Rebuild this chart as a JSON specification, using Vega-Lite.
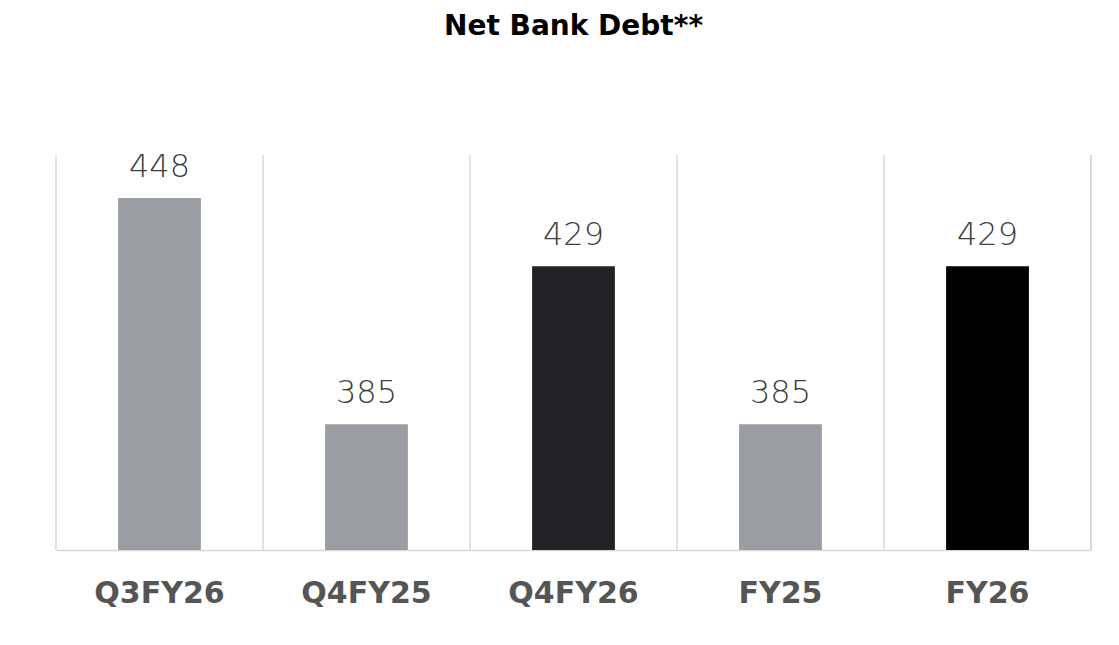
{
  "$schema": "https://vega.github.io/schema/vega-lite/v6.json",
  "autosize": {"type": "none"},
  "padding": {"left": 56, "top": 155, "right": 28, "bottom": 95},
  "width": 1035,
  "height": 395,
  "background": "white",
  "title": {
    "text": "Net Bank Debt**",
    "font": "DejaVu Sans",
    "fontSize": 28,
    "fontWeight": "bold",
    "color": "#000000",
    "anchor": "middle",
    "baseline": "alphabetic",
    "offset": 88
  },
  "data": {
    "values": [
      {"period": "Q3FY26", "value": 448},
      {"period": "Q4FY25", "value": 385},
      {"period": "Q4FY26", "value": 429},
      {"period": "FY25", "value": 385},
      {"period": "FY26", "value": 429}
    ]
  },
  "layer": [
    {
      "mark": {"type": "rule", "color": "#d9d9d9", "strokeWidth": 1.5},
      "encoding": {
        "x": {"field": "period", "type": "nominal", "sort": null, "bandPosition": 0}
      }
    },
    {
      "mark": {"type": "rule", "color": "#d9d9d9", "strokeWidth": 1.5},
      "encoding": {
        "x": {"datum": "FY26", "type": "nominal", "bandPosition": 1}
      }
    },
    {
      "mark": {"type": "bar", "width": {"band": 0.4}},
      "encoding": {
        "x": {"field": "period", "type": "nominal", "sort": null},
        "y": {"field": "value", "type": "quantitative", "scale": {"domain": [350, 460], "zero": false, "nice": false}, "axis": null},
        "y2": {"datum": 350},
        "color": {
          "field": "period",
          "type": "nominal",
          "scale": {
            "domain": ["Q3FY26", "Q4FY25", "Q4FY26", "FY25", "FY26"],
            "range": ["#9a9ea3", "#9a9ea3", "#222326", "#9a9ea3", "#000000"]
          },
          "legend": null
        }
      }
    },
    {
      "mark": {"type": "text", "font": "DejaVu Sans", "fontSize": 32, "fontWeight": 300, "color": "#404040", "baseline": "alphabetic", "dy": -21},
      "encoding": {
        "x": {"field": "period", "type": "nominal", "sort": null},
        "y": {"field": "value", "type": "quantitative"},
        "text": {"field": "value", "type": "quantitative"}
      }
    }
  ],
  "config": {
    "view": {"stroke": null},
    "scale": {"bandPaddingInner": 0, "bandPaddingOuter": 0},
    "axisX": {
      "title": null,
      "labelAngle": 0,
      "ticks": false,
      "grid": false,
      "domainColor": "#d9d9d9",
      "domainWidth": 1.5,
      "labelFont": "DejaVu Sans",
      "labelFontSize": 30,
      "labelFontWeight": "bold",
      "labelColor": "#555555",
      "labelPadding": 28,
      "labelBaseline": "top"
    }
  }
}
